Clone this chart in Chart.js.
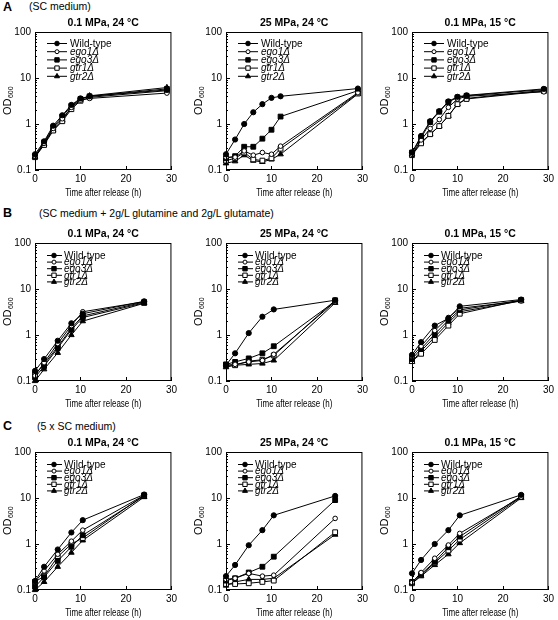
<!DOCTYPE html>
<html>
<head>
<meta charset="utf-8">
<script src="https://cdn.jsdelivr.net/npm/chart.js@4.4.0/dist/chart.umd.min.js"></script>
<style>
  body { margin: 0; width: 558px; height: 620px; overflow: hidden; background: #fff; position: relative;
         font-family: "Liberation Sans", Arial, sans-serif; color: #000; }
  .box { position: absolute; width: 180px; height: 200px; }
  .lab { position: absolute; font-size: 12.5px; font-weight: bold; }
  .med { position: absolute; font-size: 10.5px; }
</style>
</head>
<body>
<div class="lab" style="left:3px;top:0px">A</div>
<div class="med" style="left:29px;top:0px">(SC medium)</div>
<div class="lab" style="left:3px;top:206px">B</div>
<div class="med" style="left:39px;top:207px">(SC medium + 2g/L glutamine and 2g/L glutamate)</div>
<div class="lab" style="left:3px;top:419px">C</div>
<div class="med" style="left:37px;top:420px">(5 x SC medium)</div>

<script>
const strains = ["Wild-type", "ego1Δ", "ego3Δ", "gtr1Δ", "gtr2Δ"];
const panelTitles = ["0.1 MPa, 24 °C", "25 MPa, 24 °C", "0.1 MPa, 15 °C"];
const xTitle = "Time after release (h)";
const timesA = [0, 2, 4, 6, 8, 10, 12, 29];
const timesBC = [0, 2, 5, 8, 10.5, 24];
const yTicks = [0.1, 1, 10, 100];
const xTicks = [0, 10, 20, 30];

// A: SC medium   (rows: WT, ego1, ego3, gtr1, gtr2)
const a1 = [
  [0.22, 0.42, 0.92, 1.55, 2.6, 3.6, 4.0, 5.5],
  [0.20, 0.38, 0.80, 1.30, 2.3, 3.3, 3.6, 4.7],
  [0.20, 0.40, 0.85, 1.45, 2.5, 3.5, 4.0, 5.8],
  [0.19, 0.35, 0.72, 1.15, 2.1, 3.2, 3.8, 5.3],
  [0.19, 0.37, 0.75, 1.20, 2.3, 3.4, 4.1, 6.2]
];
const a2 = [
  [0.22, 0.46, 1.0, 1.8, 2.7, 3.7, 4.0, 5.9],
  [0.19, 0.19, 0.26, 0.21, 0.24, 0.22, 0.33, 4.8],
  [0.18, 0.20, 0.32, 0.32, 0.48, 0.75, 1.45, 5.3],
  [0.16, 0.18, 0.24, 0.17, 0.16, 0.18, 0.29, 4.6],
  [0.14, 0.155, 0.21, 0.16, 0.15, 0.17, 0.22, 4.5]
];
const a3 = [
  [0.24, 0.55, 1.15, 1.9, 3.1, 3.9, 4.2, 5.8],
  [0.22, 0.45, 0.80, 1.25, 2.3, 3.5, 4.0, 5.0],
  [0.24, 0.50, 1.10, 1.85, 3.0, 3.8, 4.1, 5.6],
  [0.21, 0.38, 0.60, 0.90, 1.5, 2.7, 3.5, 5.2],
  [0.22, 0.40, 0.60, 0.90, 1.5, 2.7, 3.6, 5.4]
];
// B: SC medium + glutamine/glutamate
const b1 = [
  [0.166, 0.30, 0.75, 1.8, 2.9, 5.4],
  [0.13, 0.25, 0.65, 1.6, 3.2, 5.3],
  [0.12, 0.21, 0.52, 1.3, 2.4, 5.0],
  [0.14, 0.23, 0.56, 1.4, 2.6, 5.2],
  [0.10, 0.18, 0.41, 1.0, 2.0, 4.9]
];
const b2 = [
  [0.22, 0.40, 1.1, 2.5, 3.6, 5.7],
  [0.22, 0.23, 0.26, 0.28, 0.38, 5.3],
  [0.23, 0.26, 0.31, 0.40, 0.57, 5.4],
  [0.22, 0.22, 0.27, 0.29, 0.36, 5.7],
  [0.20, 0.22, 0.23, 0.24, 0.28, 5.0]
];
const b3 = [
  [0.37, 0.70, 1.6, 2.3, 4.2, 5.9],
  [0.34, 0.57, 1.25, 2.4, 3.8, 5.5],
  [0.30, 0.50, 1.05, 2.1, 3.5, 5.7],
  [0.27, 0.39, 0.78, 1.6, 2.9, 5.7],
  [0.26, 0.45, 0.90, 1.85, 3.2, 5.5]
];
// C: 5 x SC medium
const c1 = [
  [0.157, 0.32, 0.76, 1.78, 3.3, 11.9],
  [0.15, 0.26, 0.60, 1.15, 2.0, 11.5],
  [0.118, 0.19, 0.43, 0.87, 1.55, 11],
  [0.15, 0.20, 0.53, 1.0, 1.35, 11.5],
  [0.10, 0.15, 0.32, 0.65, 1.2, 10.5]
];
const c2 = [
  [0.20, 0.35, 0.94, 2.0, 4.2, 11.1],
  [0.17, 0.18, 0.23, 0.20, 0.21, 3.6],
  [0.16, 0.18, 0.24, 0.32, 0.53, 9.0],
  [0.135, 0.135, 0.14, 0.15, 0.16, 1.8],
  [0.125, 0.15, 0.17, 0.17, 0.18, 1.6]
];
const c3 = [
  [0.23, 0.45, 1.0, 2.0, 4.2, 11.7],
  [0.145, 0.24, 0.49, 0.95, 1.7, 10.5],
  [0.15, 0.22, 0.41, 0.85, 1.45, 11],
  [0.14, 0.21, 0.39, 0.72, 1.25, 10.5],
  [0.14, 0.20, 0.35, 0.60, 1.05, 10]
];

const FONT = '"Liberation Sans", Arial, sans-serif';
const markers = [
  { pointStyle: "circle", fill: "#000", radius: 2.6 },
  { pointStyle: "circle", fill: "#fff", radius: 2.3 },
  { pointStyle: "rect", fill: "#000", radius: 3.4 },
  { pointStyle: "rect", fill: "#fff", radius: 3.4 },
  { pointStyle: "triangle", fill: "#000", radius: 3.2 }
];

// plot area corners per column / row
const plotLeft = [35, 226, 412];
const plotTop = [32, 243, 452];
const legendRows = [
  { first: 11.5, gap: 8.2, x0: 12, x1: 32, mx: 22, tx: 35 },
  { first: 12.5, gap: 6.6, x0: 12, x1: 27, mx: 19, tx: 29 },
  { first: 12.5, gap: 6.6, x0: 12, x1: 27, mx: 19, tx: 29 }
];

const extras = {
  id: "extras",
  afterDatasetsDraw(chart, args, opts) {
    const { ctx, chartArea: a, scales } = chart;
    ctx.save();
    ctx.strokeStyle = "#000";
    ctx.lineWidth = 1;
    ctx.strokeRect(a.left + 0.5, a.top + 0.5, a.width - 1, a.height - 1);

    // inner ticks on the log axis
    ctx.beginPath();
    for (let d = 0.1; d < 100; d *= 10) {
      for (let k = 1; k <= 10; k++) {
        const y = Math.round(scales.y.getPixelForValue(d * k)) + 0.5;
        const len = k === 1 || k === 10 ? 4 : 2;
        ctx.moveTo(a.left, y);
        ctx.lineTo(a.left + len, y);
      }
    }
    xTicks.forEach(v => {
      const x = Math.round(scales.x.getPixelForValue(v)) + 0.5;
      ctx.moveTo(x, a.bottom);
      ctx.lineTo(x, a.bottom - 4);
    });
    ctx.stroke();

    // panel title
    ctx.fillStyle = "#000";
    ctx.font = "bold 10.5px " + FONT;
    ctx.textAlign = "center";
    ctx.textBaseline = "middle";
    ctx.fillText(opts.title, (a.left + a.right) / 2, a.top - 9);

    // x title, slightly condensed like the original
    ctx.save();
    ctx.translate((a.left + a.right) / 2, a.bottom + 23);
    ctx.scale(0.8, 1);
    ctx.font = "10px " + FONT;
    ctx.fillText(xTitle, 0, 0);
    ctx.restore();

    // y title OD600 with subscript
    ctx.textAlign = "left";
    ctx.translate(8, (a.top + a.bottom) / 2);
    ctx.rotate(-Math.PI / 2);
    ctx.font = "11px " + FONT;
    const w1 = ctx.measureText("OD").width;
    ctx.font = "7px " + FONT;
    const w2 = ctx.measureText("600").width;
    const start = -(w1 + w2) / 2;
    ctx.font = "11px " + FONT;
    ctx.fillText("OD", start, 0);
    ctx.font = "7px " + FONT;
    ctx.fillText("600", start + w1 + 0.5, 3);
    ctx.restore();

    // legend
    const L = legendRows[opts.row];
    ctx.save();
    ctx.lineWidth = 1;
    ctx.strokeStyle = "#000";
    strains.forEach((name, i) => {
      const y = a.top + L.first + i * L.gap;
      ctx.beginPath();
      ctx.moveTo(a.left + L.x0, y);
      ctx.lineTo(a.left + L.x1, y);
      ctx.stroke();
      ctx.fillStyle = markers[i].fill;
      Chart.helpers.drawPoint(ctx, { pointStyle: markers[i].pointStyle, radius: markers[i].radius - 0.3, borderWidth: 1, rotation: 0 }, a.left + L.mx, y);
      ctx.fillStyle = "#000";
      ctx.textBaseline = "middle";
      ctx.font = (i === 0 ? "" : "italic ") + "10px " + FONT;
      ctx.fillText(name, a.left + L.tx, y + 0.5);
    });
    ctx.restore();
  }
};

function makePanel(row, col, times, series) {
  const box = document.createElement("div");
  box.className = "box";
  box.style.left = (plotLeft[col] - 35) + "px";
  box.style.top = (plotTop[row] - 32) + "px";
  const cv = document.createElement("canvas");
  cv.width = 180;
  cv.height = 200;
  box.appendChild(cv);
  document.body.appendChild(box);

  const datasets = series.map((vals, i) => ({
    label: strains[i],
    data: times.map((t, j) => ({ x: t, y: vals[j] })),
    borderColor: "#000",
    borderWidth: 1,
    pointStyle: markers[i].pointStyle,
    pointRadius: markers[i].radius,
    pointBackgroundColor: markers[i].fill,
    pointBorderColor: "#000",
    pointBorderWidth: 1,
    tension: 0,
    clip: false
  }));

  new Chart(cv, {
    type: "line",
    data: { datasets },
    plugins: [extras],
    options: {
      responsive: false,
      animation: false,
      events: [],
      layout: { padding: { top: 32, right: 8, bottom: 0, left: 0 } },
      plugins: {
        legend: { display: false },
        tooltip: { enabled: false },
        title: { display: false },
        extras: { row, title: panelTitles[col] }
      },
      scales: {
        x: {
          type: "linear",
          min: 0,
          max: 30,
          afterBuildTicks: s => { s.ticks = xTicks.map(v => ({ value: v })); },
          afterFit: s => { s.height = 30; },
          grid: { display: false, drawTicks: false },
          border: { display: false },
          ticks: { color: "#000", font: { family: FONT, size: 10 }, padding: 3, maxRotation: 0, autoSkip: false }
        },
        y: {
          type: "logarithmic",
          min: 0.1,
          max: 100,
          afterBuildTicks: s => { s.ticks = yTicks.map(v => ({ value: v, major: true })); },
          afterFit: s => { s.width = 35; },
          grid: { display: false, drawTicks: false },
          border: { display: false },
          ticks: { color: "#000", font: { family: FONT, size: 10 }, padding: 4, autoSkip: false, callback: v => String(v) }
        }
      }
    }
  });
}

makePanel(0, 0, timesA, a1);
makePanel(0, 1, timesA, a2);
makePanel(0, 2, timesA, a3);
makePanel(1, 0, timesBC, b1);
makePanel(1, 1, timesBC, b2);
makePanel(1, 2, timesBC, b3);
makePanel(2, 0, timesBC, c1);
makePanel(2, 1, timesBC, c2);
makePanel(2, 2, timesBC, c3);
</script>
</body>
</html>
